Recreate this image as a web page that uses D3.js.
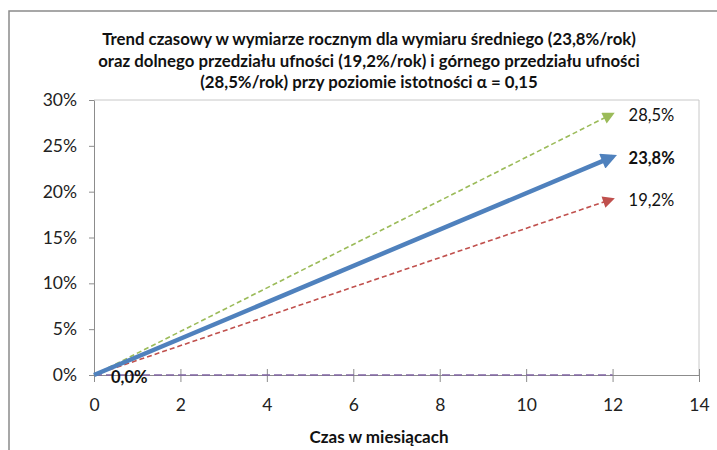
<!DOCTYPE html>
<html lang="pl">
<head>
    <meta charset="UTF-8">
    <title>Trend czasowy</title>
    <script src="https://d3js.org/d3.v7.min.js"></script>
    <style>
        body { margin: 0; background: #fff; }
        svg { display: block; font-family: Lato, "Open Sans", sans-serif; }
    </style>
</head>
<body>
<svg width="717" height="450"></svg>
<script>
// values
const xTicks = [0, 2, 4, 6, 8, 10, 12, 14];
const yTicks = [0, 0.05, 0.10, 0.15, 0.20, 0.25, 0.30];
const months = [0, 12];
const seriesNames = ["górny", "średni", "dolny", "zero"];
const seriesValues = [
    [0, 0.285],
    [0, 0.238],
    [0, 0.192],
    [0, 0.0]
];
const endLabels = ["28,5%", "23,8%", "19,2%", "0,0%"];
const titleLines = [
    "Trend czasowy w wymiarze rocznym dla wymiaru średniego (23,8%/rok)",
    "oraz dolnego przedziału ufności (19,2%/rok) i górnego przedziału ufności",
    "(28,5%/rok) przy poziomie istotności α = 0,15"
];
const xTitle = "Czas w miesiącach";

const colors = ["#9bbb59", "#4f81bd", "#c0504d", "#8064a2"];
const widths = [1.6, 4.5, 1.6, 1.6];
const dashes = ["5,3", null, "5,3", "8,4"];

const svg = d3.select("svg");
const plot = { left: 94, top: 100, right: 699, bottom: 375 };

const x = d3.scaleLinear().domain([0, 14]).range([plot.left, plot.right]);
const y = d3.scaleLinear().domain([0, 0.30]).range([plot.bottom, plot.top]);

// outer chart border
svg.append("rect")
    .attr("x", 9).attr("y", 11)
    .attr("width", 720).attr("height", 450)
    .attr("fill", "none").attr("stroke", "#8a8a8a").attr("stroke-width", 1.5);

// plot area frame (top and right)
svg.append("path")
    .attr("d", `M${plot.left},${plot.top}H${plot.right}V${plot.bottom}`)
    .attr("fill", "none").attr("stroke", "#c8c8c8");

// title
svg.append("text")
    .attr("text-anchor", "middle")
    .attr("font-weight", "bold")
    .attr("font-size", 16.8)
    .attr("fill", "#111")
    .selectAll("tspan")
    .data(titleLines)
    .join("tspan")
    .attr("x", 369)
    .attr("y", (d, i) => 45 + i * 21.5)
    .text(d => d);

// axes
const yAxis = svg.append("g")
    .attr("transform", `translate(${plot.left},0)`)
    .call(d3.axisLeft(y).tickValues(yTicks).tickFormat(d3.format(".0%")).tickSize(5).tickPadding(12).tickSizeOuter(0));
const xAxis = svg.append("g")
    .attr("transform", `translate(0,${plot.bottom})`)
    .call(d3.axisBottom(x).tickValues(xTicks).tickSize(7).tickPadding(24).tickSizeOuter(0));
xAxis.selectAll(".tick line").attr("y1", -6);
[xAxis, yAxis].forEach(g => {
    g.selectAll("path, line").attr("stroke", "#8c8c8c");
    g.attr("font-family", "Lato, sans-serif").attr("font-size", 17.5);
    g.selectAll("text").attr("fill", "#222");
});
xAxis.selectAll(".tick text").attr("dy", "0.3em");

svg.append("text")
    .attr("x", 379).attr("y", 443)
    .attr("text-anchor", "middle")
    .attr("font-weight", "bold")
    .attr("font-size", 17)
    .attr("fill", "#111")
    .text(xTitle);

// arrow markers
const defs = svg.append("defs");
colors.forEach((c, i) => {
    defs.append("marker")
        .attr("id", "arr" + i)
        .attr("viewBox", "0 0 10 10")
        .attr("refX", i === 1 ? 7 : 8).attr("refY", 5)
        .attr("markerUnits", "userSpaceOnUse")
        .attr("markerWidth", i === 1 ? 17 : 14)
        .attr("markerHeight", i === 1 ? 16 : 12)
        .attr("orient", "auto")
        .append("path")
        .attr("d", "M0,0L10,5L0,10Z")
        .attr("fill", c);
});

const line = d3.line().x((d, i) => x(months[i])).y(d => y(d));

// draw lower-priority series first, mean on top
const order = [3, 2, 0, 1];
order.forEach(i => {
    svg.append("path")
        .datum(seriesValues[i])
        .attr("d", line)
        .attr("fill", "none")
        .attr("stroke", colors[i])
        .attr("stroke-width", widths[i])
        .attr("stroke-dasharray", dashes[i])
        .attr("marker-end", i === 3 ? null : `url(#arr${i})`);
});

// end labels
const labelPos = [
    { x: x(12) + 16, y: y(0.285) + 1, bold: false },
    { x: x(12) + 16, y: y(0.238) + 1, bold: true },
    { x: x(12) + 16, y: y(0.192) + 1, bold: false },
    { x: x(0) + 17, y: y(0) + 2, bold: true }
];
endLabels.forEach((t, i) => {
    svg.append("text")
        .attr("x", labelPos[i].x).attr("y", labelPos[i].y)
        .attr("dy", "0.35em")
        .attr("font-size", 16.5)
        .attr("font-weight", labelPos[i].bold ? "bold" : "normal")
        .attr("fill", "#111")
        .text(t);
});
</script>
</body>
</html>
